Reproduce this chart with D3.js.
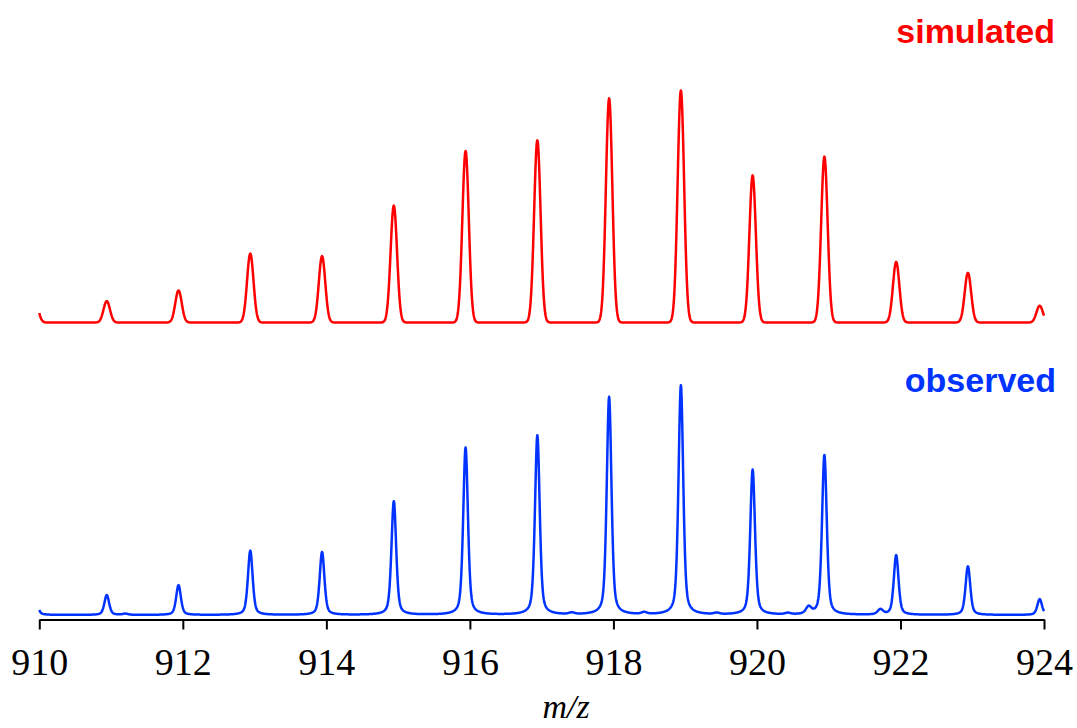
<!DOCTYPE html>
<html lang="en">
	<head>
		<meta charset="utf-8">
		<title>Simulated vs observed isotope pattern</title>
		<script type="text/javascript" src="https://cdn.jsdelivr.net/npm/d3@7/dist/d3.min.js"></script>
		<style type="text/css">
			body { margin: 0; background: #fff; }
			.axis text { font-family: "Liberation Serif", "Times New Roman", serif; font-size: 38px; fill: #000; }
			.axis path, .axis line { stroke: #000; stroke-width: 2px; }
		</style>
	</head>
	<body>
		<script type="text/javascript">

			//Width and height
			var w = 1077;
			var h = 728;

			//Peak list (m/z, relative intensity)
			var simMz  = [909.94, 910.94, 911.94, 912.94, 913.94, 914.94, 915.94, 916.94,
						  917.94, 918.94, 919.94, 920.94, 921.94, 922.94, 923.94];
			var simInt = [10, 9.2, 13.8, 29.7, 28.6, 50.4, 73.9, 78.5,
						  96.6, 100, 63.4, 71.5, 26.1, 21.4, 7.2];

			var obsMz  = [909.94, 910.94, 911.2, 911.94, 912.94, 913.94, 914.94, 915.94, 916.94,
						  917.42, 917.94, 918.43, 918.94, 919.44, 919.94, 920.43, 920.72, 920.94,
						  921.72, 921.94, 922.94, 923.94];
			var obsInt = [9, 8.7, 0.5, 13, 28, 27.4, 49.5, 72.9, 78.2,
						  0.7, 94.9, 0.8, 100, 0.6, 63.2, 0.6, 3, 69.6,
						  2.2, 26, 21.2, 6.9];

			var tickLabels = [910, 912, 914, 916, 918, 920, 922, 924];

			//Scales
			var xScale = d3.scaleLinear()
							.domain([910, 924])
							.range([39.3, 1044]);

			var ySim = d3.scaleLinear()
							.domain([0, 100])
							.range([322.5, 90.5]);

			var yObs = d3.scaleLinear()
							.domain([0, 100])
							.range([615, 385.5]);

			//Peak shapes
			var gauss = function(x, c, s) {
				return Math.exp(-0.5 * Math.pow((x - c) / s, 2));
			};
			var voigt = function(x, c, fwhm, eta) {
				var g = Math.exp(-4 * Math.LN2 * Math.pow((x - c) / fwhm, 2));
				var l = 1 / (1 + Math.pow(2 * (x - c) / fwhm, 2));
				return eta * l + (1 - eta) * g;
			};

			var grid = d3.range(910, 924.0001, 0.005);

			var simData = grid.map(function(x) {
				var v = 0;
				for (var i = 0; i < simMz.length; i++) v += simInt[i] * gauss(x, simMz[i], 0.045);
				return [x, v];
			});

			var obsData = grid.map(function(x) {
				var v = 0;
				for (var i = 0; i < obsMz.length; i++) {
					var wd = obsInt[i] < 5 ? 0.09 : 0.078;
					v += obsInt[i] * voigt(x, obsMz[i], wd, 0.45);
				}
				return [x, v];
			});

			//Create SVG element
			var svg = d3.select("body")
						.append("svg")
						.attr("width", w)
						.attr("height", h);

			var simLine = d3.line()
							.x(function(d) { return xScale(d[0]); })
							.y(function(d) { return ySim(d[1]); });

			var obsLine = d3.line()
							.x(function(d) { return xScale(d[0]); })
							.y(function(d) { return yObs(d[1]); });

			svg.append("path")
			   .datum(simData)
			   .attr("d", simLine)
			   .attr("fill", "none")
			   .attr("stroke", "#ff0000")
			   .attr("stroke-width", 2.5)
			   .attr("stroke-linejoin", "round");

			svg.append("path")
			   .datum(obsData)
			   .attr("d", obsLine)
			   .attr("fill", "none")
			   .attr("stroke", "#0033ff")
			   .attr("stroke-width", 2.5)
			   .attr("stroke-linejoin", "round");

			//Axis
			var xAxis = d3.axisBottom(xScale)
							.tickValues(tickLabels)
							.tickFormat(d3.format("d"))
							.tickSize(10)
							.tickSizeOuter(0);

			var gx = svg.append("g")
						.attr("class", "axis")
						.attr("transform", "translate(0,619.5)")
						.call(xAxis);

			gx.selectAll("text")
			  .attr("y", 55.5)
			  .attr("dy", 0);

			//Labels
			svg.append("text")
			   .attr("x", 566)
			   .attr("y", 718)
			   .attr("text-anchor", "middle")
			   .attr("font-family", "Liberation Serif, Times New Roman, serif")
			   .attr("font-style", "italic")
			   .attr("font-size", "34px")
			   .text("m/z");

			svg.append("text")
			   .attr("x", 1055)
			   .attr("y", 42.5)
			   .attr("text-anchor", "end")
			   .attr("font-family", "Liberation Sans, Arial, sans-serif")
			   .attr("font-weight", "bold")
			   .attr("font-size", "34px")
			   .attr("fill", "#ff0000")
			   .text("simulated");

			svg.append("text")
			   .attr("x", 1056)
			   .attr("y", 391.5)
			   .attr("text-anchor", "end")
			   .attr("font-family", "Liberation Sans, Arial, sans-serif")
			   .attr("font-weight", "bold")
			   .attr("font-size", "34px")
			   .attr("fill", "#0033ff")
			   .text("observed");
		</script>
	</body>
</html>
